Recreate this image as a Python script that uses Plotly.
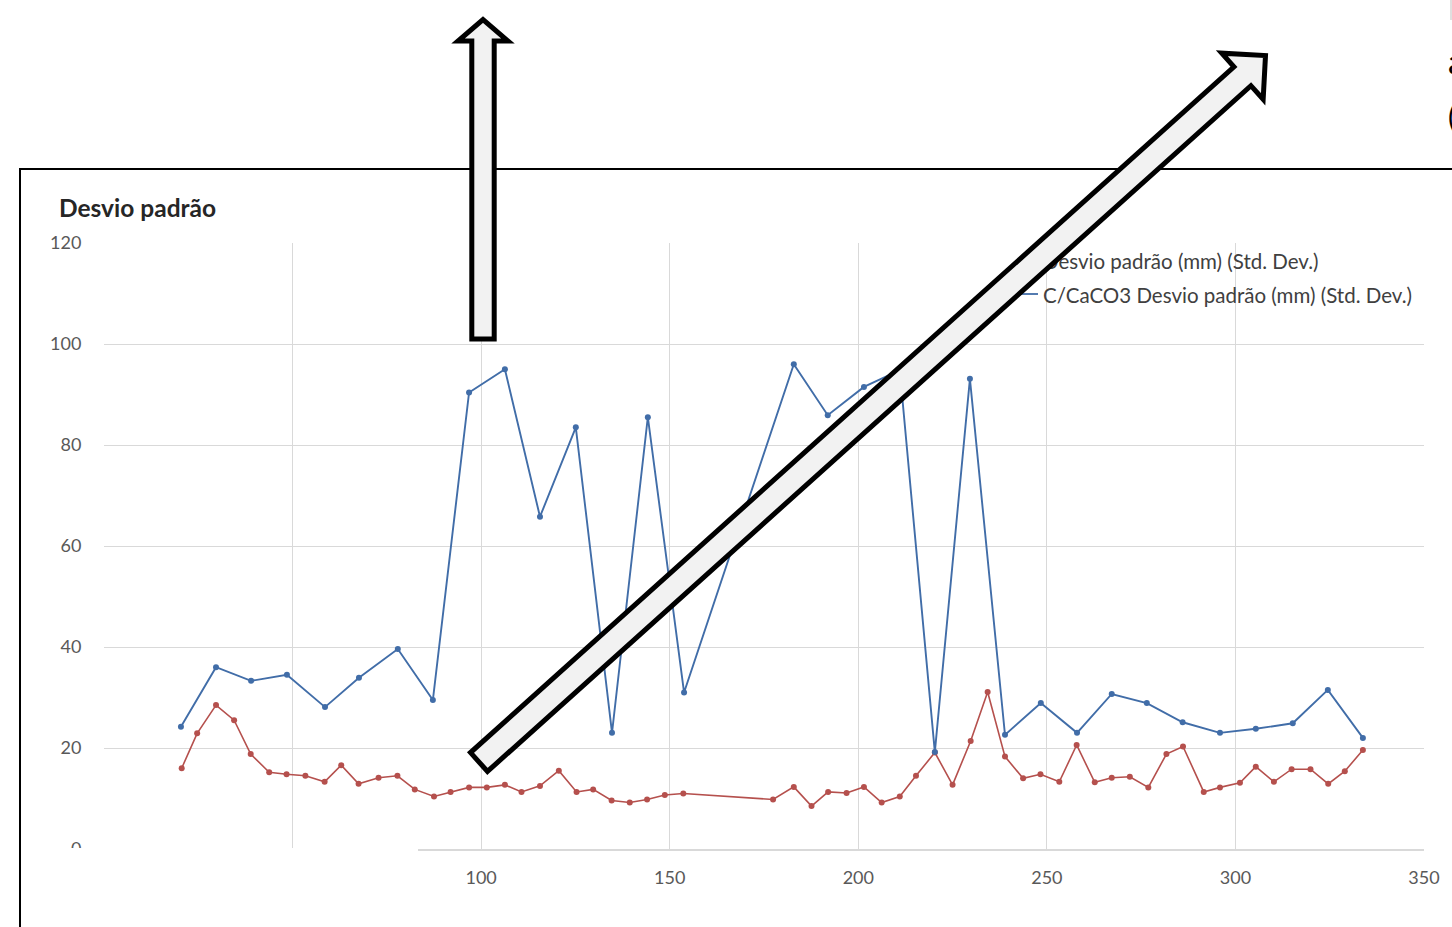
import math
import plotly.graph_objects as go

# ---------------- data ----------------
c_caco3_x = [20.4, 29.7, 39.0, 48.5, 58.6, 67.6, 77.9, 87.2, 96.8, 106.3, 115.6, 125.1,
             134.7, 144.2, 153.8, 182.9, 191.9, 201.5, 211.0, 220.3, 229.6, 238.9, 248.4,
             258.0, 267.2, 276.5, 286.0, 295.9, 305.4, 315.2, 324.5, 333.8]
c_caco3_y = [24.2, 36.0, 33.3, 34.5, 28.1, 33.9, 39.6, 29.5, 90.4, 95.0, 65.8, 83.5,
             23.0, 85.5, 31.0, 96.0, 85.9, 91.5, 94.8, 19.2, 93.1, 22.6, 28.9,
             23.0, 30.7, 28.9, 25.1, 23.0, 23.8, 24.9, 31.5, 22.0]

plain_x = [20.6, 24.7, 29.7, 34.5, 38.9, 43.8, 48.4, 53.4, 58.5, 62.9, 67.5, 72.8, 77.8,
           82.4, 87.5, 91.9, 96.8, 101.5, 106.3, 110.7, 115.6, 120.6, 125.3, 129.7, 134.6,
           139.4, 144.0, 148.7, 153.6, 177.4, 182.9, 187.6, 192.0, 196.9, 201.5, 206.2,
           211.0, 215.3, 220.3, 225.0, 229.8, 234.3, 238.9, 243.7, 248.3, 253.3, 257.9,
           262.7, 267.2, 272.0, 276.9, 281.7, 286.1, 291.6, 295.9, 301.2, 305.4, 310.2,
           314.9, 319.9, 324.6, 329.0, 333.8]
plain_y = [16.0, 22.9, 28.5, 25.5, 18.8, 15.2, 14.8, 14.5, 13.3, 16.6, 12.9, 14.1, 14.5,
           11.8, 10.4, 11.3, 12.2, 12.2, 12.7, 11.3, 12.5, 15.5, 11.3, 11.8, 9.6,
           9.2, 9.8, 10.7, 11.0, 9.8, 12.3, 8.5, 11.3, 11.1, 12.3, 9.2,
           10.4, 14.5, 19.1, 12.7, 21.4, 31.1, 18.3, 14.0, 14.8, 13.3, 20.6,
           13.2, 14.1, 14.3, 12.2, 18.8, 20.3, 11.3, 12.2, 13.1, 16.3, 13.3,
           15.8, 15.8, 12.9, 15.4, 19.6]

x_ticks = [0, 50, 100, 150, 200, 250, 300, 350]
y_ticks = [0, 20, 40, 60, 80, 100, 120]

chart_title = "Desvio padrão"
name_plain = "Desvio padrão (mm) (Std. Dev.)"
name_caco3 = "C/CaCO3 Desvio padrão (mm) (Std. Dev.)"

# ---------------- styling ----------------
W, H = 1452, 927
BLUE = "#416DA8"
RED = "#B5504D"
GRID = "#d9d9d9"
FONT = "Lato"


def X(px):
    return px / W


def Y(py):
    return 1 - py / H


fig = go.Figure()
fig.add_trace(go.Scatter(x=plain_x, y=plain_y, mode="lines+markers", name=name_plain,
                         line=dict(color=RED, width=1.6),
                         marker=dict(color=RED, size=6), showlegend=False))
fig.add_trace(go.Scatter(x=c_caco3_x, y=c_caco3_y, mode="lines+markers", name=name_caco3,
                         line=dict(color=BLUE, width=1.9),
                         marker=dict(color=BLUE, size=6), showlegend=False))

fig.update_layout(
    width=W, height=H,
    margin=dict(l=0, r=0, t=0, b=0, pad=0, autoexpand=False),
    paper_bgcolor="white", plot_bgcolor="white",
    xaxis=dict(domain=[X(104), X(1424)], range=[0, 350], tickvals=x_ticks,
               ticktext=[str(v) for v in x_ticks], automargin=False,
               showgrid=True, gridcolor=GRID, gridwidth=1.2, zeroline=False,
               showline=True, linecolor=GRID, linewidth=1.5,
               ticks="outside", ticklen=12, tickcolor="rgba(0,0,0,0)",
               tickfont=dict(family=FONT, size=18, color="#595959")),
    yaxis=dict(domain=[Y(849), Y(243)], range=[0, 120], tickvals=y_ticks,
               automargin=False,
               showgrid=True, gridcolor=GRID, gridwidth=1.2, zeroline=False,
               showline=False,
               ticks="outside", ticklen=18, tickcolor="rgba(0,0,0,0)",
               tickfont=dict(family=FONT, size=18, color="#595959")),
)


def arrow_path(tail, tip, w, hw, hl):
    tx, ty = tail
    hx, hy = tip
    d = math.hypot(hx - tx, hy - ty)
    ux, uy = (hx - tx) / d, (hy - ty) / d
    nx, ny = -uy, ux
    bx, by = hx - hl * ux, hy - hl * uy
    pts = [(tx + w * nx, ty + w * ny), (bx + w * nx, by + w * ny),
           (bx + hw * nx, by + hw * ny), (hx, hy),
           (bx - hw * nx, by - hw * ny), (bx - w * nx, by - w * ny),
           (tx - w * nx, ty - w * ny)]
    return "M " + " L ".join(f"{X(p[0]):.5f},{Y(p[1]):.5f}" for p in pts) + " Z"


shapes = []
# outer chart frame
shapes.append(dict(type="rect", xref="paper", yref="paper", x0=X(20), x1=X(1480),
                   y0=Y(169), y1=Y(960), line=dict(color="black", width=2),
                   fillcolor="rgba(0,0,0,0)", layer="above"))
# white cover hiding lower-left axis area
shapes.append(dict(type="rect", xref="paper", yref="paper", x0=X(22), x1=X(418),
                   y0=Y(848), y1=Y(935), line=dict(width=0), fillcolor="white",
                   layer="above"))
# small grey tick at top right
shapes.append(dict(type="line", xref="paper", yref="paper", x0=X(1451), x1=X(1451),
                   y0=Y(0), y1=Y(20), line=dict(color="#bfbfbf", width=1), layer="above"))

# custom legend (drawn as shapes so the arrow can cover it)
for row_y, col, label in [(260, RED, name_plain), (294, BLUE, name_caco3)]:
    shapes.append(dict(type="line", xref="paper", yref="paper", x0=X(1019), x1=X(1038),
                       y0=Y(row_y), y1=Y(row_y), line=dict(color=col, width=1.8),
                       layer="above"))
    shapes.append(dict(type="rect", xref="paper", yref="paper", x0=X(1040), x1=X(1445),
                       y0=Y(row_y + 12), y1=Y(row_y - 12), line=dict(width=0),
                       fillcolor="rgba(0,0,0,0)", layer="above",
                       label=dict(text=label, textposition="middle left", padding=0,
                                  font=dict(family=FONT, size=20.5, color="#404040"))))

# block arrows
shapes.append(dict(type="path", xref="paper", yref="paper",
                   path=arrow_path((483, 339), (483, 19.5), 11.2, 25, 21.5),
                   line=dict(color="black", width=5), fillcolor="#f2f2f2", layer="above"))
shapes.append(dict(type="path", xref="paper", yref="paper",
                   path=arrow_path((479, 762), (1265.5, 55.5), 12.7, 31, 31),
                   line=dict(color="black", width=5), fillcolor="#f2f2f2", layer="above"))

fig.update_layout(shapes=shapes)

fig.add_annotation(xref="paper", yref="paper", x=X(57), y=Y(207), xanchor="left",
                   yanchor="middle", showarrow=False, text="<b>" + chart_title + "</b>",
                   font=dict(family=FONT, size=24.5, color="#262626"))
fig.add_annotation(xref="paper", yref="paper", x=X(1446), y=Y(60), xanchor="left",
                   yanchor="middle", showarrow=False, text="a",
                   font=dict(family=FONT, size=34, color="black"))
fig.add_annotation(xref="paper", yref="paper", x=X(1446), y=Y(116), xanchor="left",
                   yanchor="middle", showarrow=False, text="(",
                   font=dict(family=FONT, size=30, color="black"))

fig.write_html("out.html", config={"displayModeBar": False},
               post_script="document.body.style.margin='0';document.body.style.overflow='hidden';")
